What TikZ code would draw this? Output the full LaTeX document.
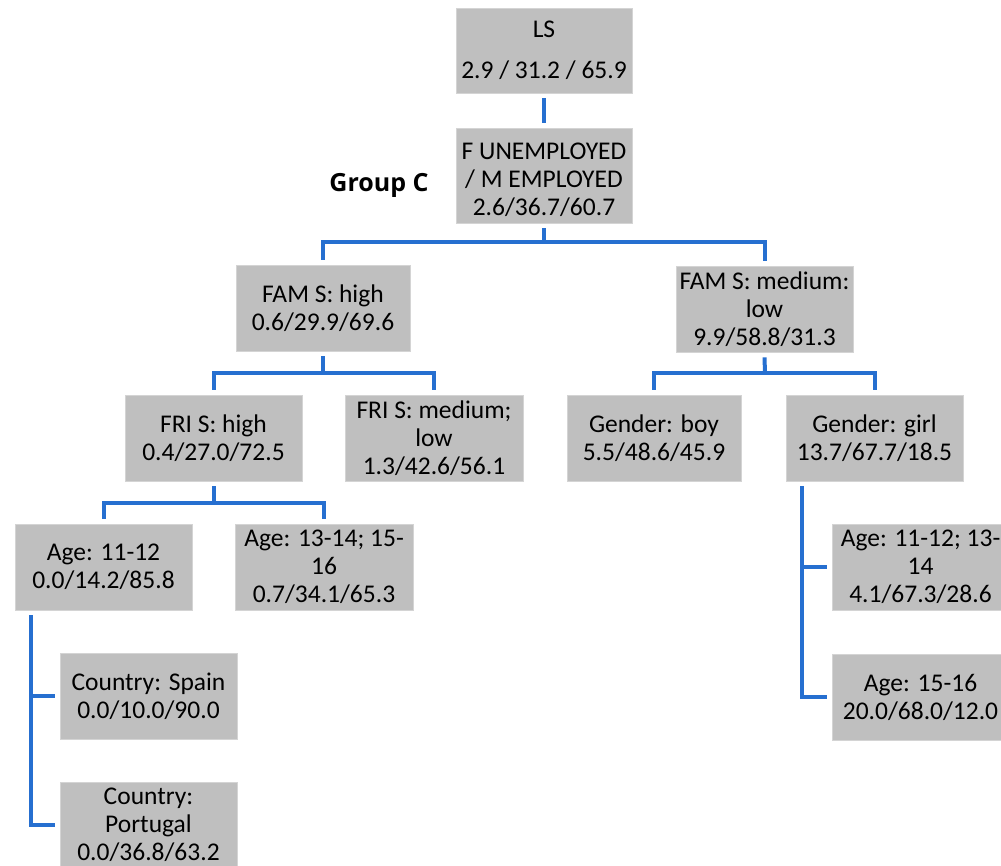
\documentclass[tikz,border=0pt]{standalone}
\usepackage{fontspec}
\setmainfont{Carlito}
\newfontfamily\grpfont{Open Sans}
\definecolor{boxgray}{HTML}{BFBFBF}
\definecolor{boxedge}{HTML}{D4D4D4}
\definecolor{linkblue}{RGB}{38,111,208}
\begin{document}
\begin{tikzpicture}[x=1pt,y=-1pt,
  box/.style={rectangle, fill=boxgray, draw=boxedge, line width=0.8pt,
    inner sep=0pt, align=center, minimum width=177pt, minimum height=86pt,
    font=\fontsize{25.5}{28}\selectfont},
  txt/.style={inner sep=0pt, align=center, font=\fontsize{25.5}{28}\selectfont},
  conn/.style={draw=linkblue, line width=4pt, line join=miter, line cap=butt}]
\useasboundingbox (0,0) rectangle (1001,866);
\clip (0,0) rectangle (1001,866);

% tree nodes
\node[box, minimum width=176pt, minimum height=85pt] (ls) at (544,50.5) {LS\\[13pt]2.9 / 31.2 / 65.9};
\node[box, minimum width=176pt, minimum height=95pt] (fu) at (544,175.5) {};
\node[txt] (fut) at (544,180) {F UNEMPLOYED\\/ M EMPLOYED\\2.6/36.7/60.7};
\node[anchor=base, inner sep=0pt, font=\grpfont\bfseries\fontsize{25}{28}\selectfont] (grp) at (379,192) {Group C};

\node[box, minimum width=174pt] (famh) at (323,308) {FAM S: high\\0.6/29.9/69.6};
\node[box] (famm) at (764.5,309) {FAM S: medium:\\low\\9.9/58.8/31.3};

\node[box] (frih) at (213.5,438) {FRI S: high\\0.4/27.0/72.5};
\node[box, minimum width=178pt] (frim) at (434,438) {FRI S: medium;\\low\\1.3/42.6/56.1};
\node[box, minimum width=174pt] (gb) at (654,438) {Gender: boy\\5.5/48.6/45.9};
\node[box] (gg) at (874.5,438) {Gender: girl\\13.7/67.7/18.5};

\node[box] (a1) at (103.5,567) {Age: 11-12\\0.0/14.2/85.8};
\node[box, minimum width=178pt] (a2) at (324,567) {Age: 13-14; 15-\\16\\0.7/34.1/65.3};

\node[box] (cs) at (148.5,696) {Country: Spain\\0.0/10.0/90.0};
\node[box] (cp) at (148.5,825) {Country:\\Portugal\\0.0/36.8/63.2};

\node[box] (ag1) at (920.5,567) {Age: 11-12; 13-\\14\\4.1/67.3/28.6};
\node[box] (ag2) at (920.5,697) {Age: 15-16\\20.0/68.0/12.0};

% junction points of the branches
\coordinate (j1) at (544,242);
\coordinate (j2) at (323,373);
\coordinate (j3) at (765,373);
\coordinate (j4) at (213.5,503);

% connectors
\draw[conn] ([yshift=-5pt]ls.south) -- ([yshift=5pt]fu.north);

\draw[conn] ([yshift=-5pt]fu.south) -- (j1);
\draw[conn] ([yshift=5pt]famh.north) |- (j1) -| ([yshift=5pt]famm.north);

\draw[conn] ([yshift=-5pt]famh.south) -- (j2);
\draw[conn] ([yshift=5pt]frih.north) |- (j2) -| ([yshift=5pt]frim.north);

\draw[conn] ([yshift=-5pt]famm.south) -- (j3);
\draw[conn] ([yshift=5pt]gb.north) |- (j3) -| ([yshift=5pt]gg.north);

\draw[conn] ([yshift=-5pt]frih.south) -- (j4);
\draw[conn] ([yshift=5pt]a1.north) |- (j4) -| ([yshift=5pt]a2.north);

\coordinate (t1) at ([xshift=16pt,yshift=-5pt]a1.south west);
\draw[conn] (t1) |- ([xshift=-5pt]cp.west);
\draw[conn] (t1 |- cs.west) -- ([xshift=-5pt]cs.west);

\coordinate (t2) at ([xshift=16pt,yshift=-5pt]gg.south west);
\draw[conn] (t2) |- ([xshift=-5pt]ag2.west);
\draw[conn] (t2 |- ag1.west) -- ([xshift=-5pt]ag1.west);
\end{tikzpicture}
\end{document}
